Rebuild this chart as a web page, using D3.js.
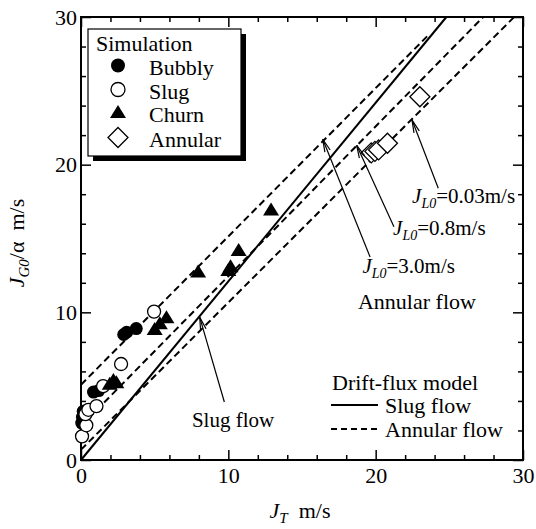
<!DOCTYPE html>
<html>
<head>
<meta charset="utf-8">
<script src="https://cdn.jsdelivr.net/npm/d3@7"></script>
<style>
  body { margin: 0; background: #fff; }
  text { font-family: "Liberation Serif", "Times New Roman", serif; fill: #000; }
</style>
</head>
<body>
<script>
// data (J_T, J_G0/alpha), m/s
var bubbly = [[0.05, 2.5], [0.1, 2.9], [0.15, 3.3], [0.85, 4.6], [1.2, 4.7], [2.9, 8.5], [3.1, 8.65], [3.75, 8.9]];
var slug = [[0.07, 1.6], [0.36, 2.35], [0.3, 3.1], [0.5, 3.4], [1.05, 3.65], [1.5, 5.0], [2.72, 6.5], [4.96, 10.05]];
var churn = [[1.95, 5.1], [2.2, 5.35], [2.4, 5.2], [5.0, 8.8], [5.35, 9.2], [5.8, 9.6], [7.95, 12.7],
             [10.0, 12.8], [10.15, 13.05], [10.7, 14.15], [12.9, 16.9]];
var annular = [[19.7, 20.8], [19.95, 20.9], [20.2, 21.0], [20.8, 21.45], [23.0, 24.6]];

// drift-flux model lines
var slugLine = [[0, 0], [24.8, 30]];
var annLine30 = [[0, 5.1], [23.6, 28.8]];
var annLine08 = [[0, 2.3], [27.3, 30]];
var annLine003 = [[0, 0.7], [29.4, 30]];

var majorTicks = [0, 10, 20, 30];
var minorTicks = [2, 4, 6, 8, 12, 14, 16, 18, 22, 24, 26, 28];

// annotation arrows: [tailX, tailY, tipX, tipY]
var arrows = [[9.73, 3.93, 8.06, 9.66], [19.62, 13.75, 16.41, 21.72],
              [21.24, 15.8, 18.71, 21.31], [24.25, 18.4, 22.47, 23.02]];

var width = 536, height = 529;
var svg = d3.select("body").append("svg")
    .attr("width", width)
    .attr("height", height);

var x = d3.scaleLinear().domain([0, 30]).range([81, 523]);
var y = d3.scaleLinear().domain([0, 30]).range([460, 17]);

var line = d3.line()
    .x(function(d) { return x(d[0]); })
    .y(function(d) { return y(d[1]); });

// axes, ticks inward on all four sides
function styleAxis(g) {
  g.select(".domain").remove();
  g.selectAll(".tick line").attr("stroke-width", 1.5);
  g.selectAll("text").style("font-size", "22px")
      .style("font-family", "'Liberation Serif', 'Times New Roman', serif");
}

svg.append("g").attr("transform", "translate(0,460)")
    .call(d3.axisBottom(x).tickValues(majorTicks).tickSize(-10).tickPadding(7).tickFormat(d3.format("d")))
    .call(styleAxis);
svg.append("g").attr("transform", "translate(0,460)")
    .call(d3.axisBottom(x).tickValues(minorTicks).tickSize(-5).tickFormat(""))
    .call(styleAxis);
svg.append("g").attr("transform", "translate(0,17)")
    .call(d3.axisTop(x).tickValues(majorTicks).tickSize(-10).tickFormat(""))
    .call(styleAxis);
svg.append("g").attr("transform", "translate(0,17)")
    .call(d3.axisTop(x).tickValues(minorTicks).tickSize(-5).tickFormat(""))
    .call(styleAxis);
svg.append("g").attr("transform", "translate(81,0)")
    .call(d3.axisLeft(y).tickValues(majorTicks).tickSize(-10).tickPadding(4).tickFormat(d3.format("d")))
    .call(styleAxis);
svg.append("g").attr("transform", "translate(81,0)")
    .call(d3.axisLeft(y).tickValues(minorTicks).tickSize(-5).tickFormat(""))
    .call(styleAxis);
svg.append("g").attr("transform", "translate(523,0)")
    .call(d3.axisRight(y).tickValues(majorTicks).tickSize(-10).tickFormat(""))
    .call(styleAxis);
svg.append("g").attr("transform", "translate(523,0)")
    .call(d3.axisRight(y).tickValues(minorTicks).tickSize(-5).tickFormat(""))
    .call(styleAxis);

svg.append("rect")
    .attr("x", x(0)).attr("y", y(30))
    .attr("width", x(30) - x(0)).attr("height", y(0) - y(30))
    .attr("fill", "none").attr("stroke", "#000").attr("stroke-width", 2);

// model lines
svg.append("path").datum(slugLine).attr("d", line)
    .attr("fill", "none").attr("stroke", "#000").attr("stroke-width", 2);
[annLine30, annLine08, annLine003].forEach(function(l) {
  svg.append("path").datum(l).attr("d", line)
      .attr("fill", "none").attr("stroke", "#000").attr("stroke-width", 2)
      .attr("stroke-dasharray", "7,4");
});

// markers
var triPath = "M0,-8L8,5L-8,5Z";
var diaPath = "M0,-10L10,0L0,10L-10,0Z";

svg.append("g").selectAll("circle").data(bubbly).enter().append("circle")
    .attr("cx", function(d) { return x(d[0]); })
    .attr("cy", function(d) { return y(d[1]); })
    .attr("r", 6.5).attr("fill", "#000");
svg.append("g").selectAll("circle").data(slug).enter().append("circle")
    .attr("cx", function(d) { return x(d[0]); })
    .attr("cy", function(d) { return y(d[1]); })
    .attr("r", 6.5).attr("fill", "#fff").attr("stroke", "#000").attr("stroke-width", 1.3);
svg.append("g").selectAll("path").data(churn).enter().append("path")
    .attr("d", triPath)
    .attr("transform", function(d) { return "translate(" + x(d[0]) + "," + y(d[1]) + ")"; })
    .attr("fill", "#000");
svg.append("g").selectAll("path").data(annular).enter().append("path")
    .attr("d", diaPath)
    .attr("transform", function(d) { return "translate(" + x(d[0]) + "," + y(d[1]) + ")"; })
    .attr("fill", "#fff").attr("stroke", "#000").attr("stroke-width", 1.3);

// arrows with open heads
arrows.forEach(function(a) {
  var x1 = x(a[0]), y1 = y(a[1]), x2 = x(a[2]), y2 = y(a[3]);
  var ang = Math.atan2(y1 - y2, x1 - x2), len = 13, spread = 0.22;
  svg.append("line").attr("x1", x1).attr("y1", y1).attr("x2", x2).attr("y2", y2)
      .attr("stroke", "#000").attr("stroke-width", 1.2);
  [-spread, spread].forEach(function(s) {
    svg.append("line").attr("x1", x2).attr("y1", y2)
        .attr("x2", x2 + len * Math.cos(ang + s)).attr("y2", y2 + len * Math.sin(ang + s))
        .attr("stroke", "#000").attr("stroke-width", 1.2);
  });
});

// annotation texts
function jl0(xv, yv, rest) {
  var t = svg.append("text").attr("x", x(xv)).attr("y", y(yv)).style("font-size", "21px");
  t.append("tspan").attr("font-style", "italic").text("J");
  t.append("tspan").attr("font-style", "italic").attr("font-size", "14px").attr("dy", 5).text("L0");
  t.append("tspan").attr("dy", -5).text(rest);
}
jl0(22.47, 17.4, "=0.03m/s");
jl0(21.18, 15.24, "=0.8m/s");
jl0(19.1, 12.66, "=3.0m/s");

svg.append("text").attr("x", x(18.8)).attr("y", y(10.23)).style("font-size", "22px").text("Annular flow");
svg.append("text").attr("x", x(7.53)).attr("y", y(2.23)).style("font-size", "21px").text("Slug flow");

// drift-flux legend
svg.append("text").attr("x", 332).attr("y", 390).style("font-size", "22px").text("Drift-flux model");
svg.append("line").attr("x1", 331).attr("x2", 378).attr("y1", 405).attr("y2", 405)
    .attr("stroke", "#000").attr("stroke-width", 2);
svg.append("text").attr("x", 385).attr("y", 413).style("font-size", "22px").text("Slug flow");
svg.append("line").attr("x1", 331).attr("x2", 378).attr("y1", 429).attr("y2", 429)
    .attr("stroke", "#000").attr("stroke-width", 2).attr("stroke-dasharray", "6,4");
svg.append("text").attr("x", 385).attr("y", 437).style("font-size", "22px").text("Annular flow");

// simulation legend box with shadow
svg.append("rect").attr("x", 93).attr("y", 34).attr("width", 153).attr("height", 127).attr("fill", "#000");
svg.append("rect").attr("x", 88).attr("y", 29).attr("width", 153).attr("height", 127)
    .attr("fill", "#fff").attr("stroke", "#000").attr("stroke-width", 1.2);
svg.append("text").attr("x", 96).attr("y", 51).style("font-size", "22px").text("Simulation");

var lg = [
  { name: "Bubbly", y: 65.5 },
  { name: "Slug", y: 89.5 },
  { name: "Churn", y: 113 },
  { name: "Annular", y: 137.5 }
];
svg.append("circle").attr("cx", 118).attr("cy", lg[0].y).attr("r", 7).attr("fill", "#000");
svg.append("circle").attr("cx", 118).attr("cy", lg[1].y).attr("r", 7)
    .attr("fill", "#fff").attr("stroke", "#000").attr("stroke-width", 1.3);
svg.append("path").attr("d", triPath).attr("transform", "translate(118," + lg[2].y + ")").attr("fill", "#000");
svg.append("path").attr("d", diaPath).attr("transform", "translate(118," + lg[3].y + ")")
    .attr("fill", "#fff").attr("stroke", "#000").attr("stroke-width", 1.3);
svg.selectAll(".lgtext").data(lg).enter().append("text")
    .attr("x", 149).attr("y", function(d) { return d.y + 9; })
    .style("font-size", "22px")
    .text(function(d) { return d.name; });

// axis titles
var xt = svg.append("text").attr("x", 300).attr("y", 518)
    .attr("text-anchor", "middle").style("font-size", "22px");
xt.append("tspan").attr("font-style", "italic").text("J");
xt.append("tspan").attr("font-style", "italic").attr("font-size", "15px").attr("dy", 5).text("T");
xt.append("tspan").attr("dy", -5).text("\u00a0\u00a0m/s");

var yt = svg.append("text").attr("transform", "translate(24,243) rotate(-90)")
    .attr("text-anchor", "middle").style("font-size", "22px");
yt.append("tspan").attr("font-style", "italic").text("J");
yt.append("tspan").attr("font-style", "italic").attr("font-size", "15px").attr("dy", 5).text("G0");
yt.append("tspan").attr("dy", -5).text("/\u03b1\u00a0\u00a0m/s");
</script>
</body>
</html>
